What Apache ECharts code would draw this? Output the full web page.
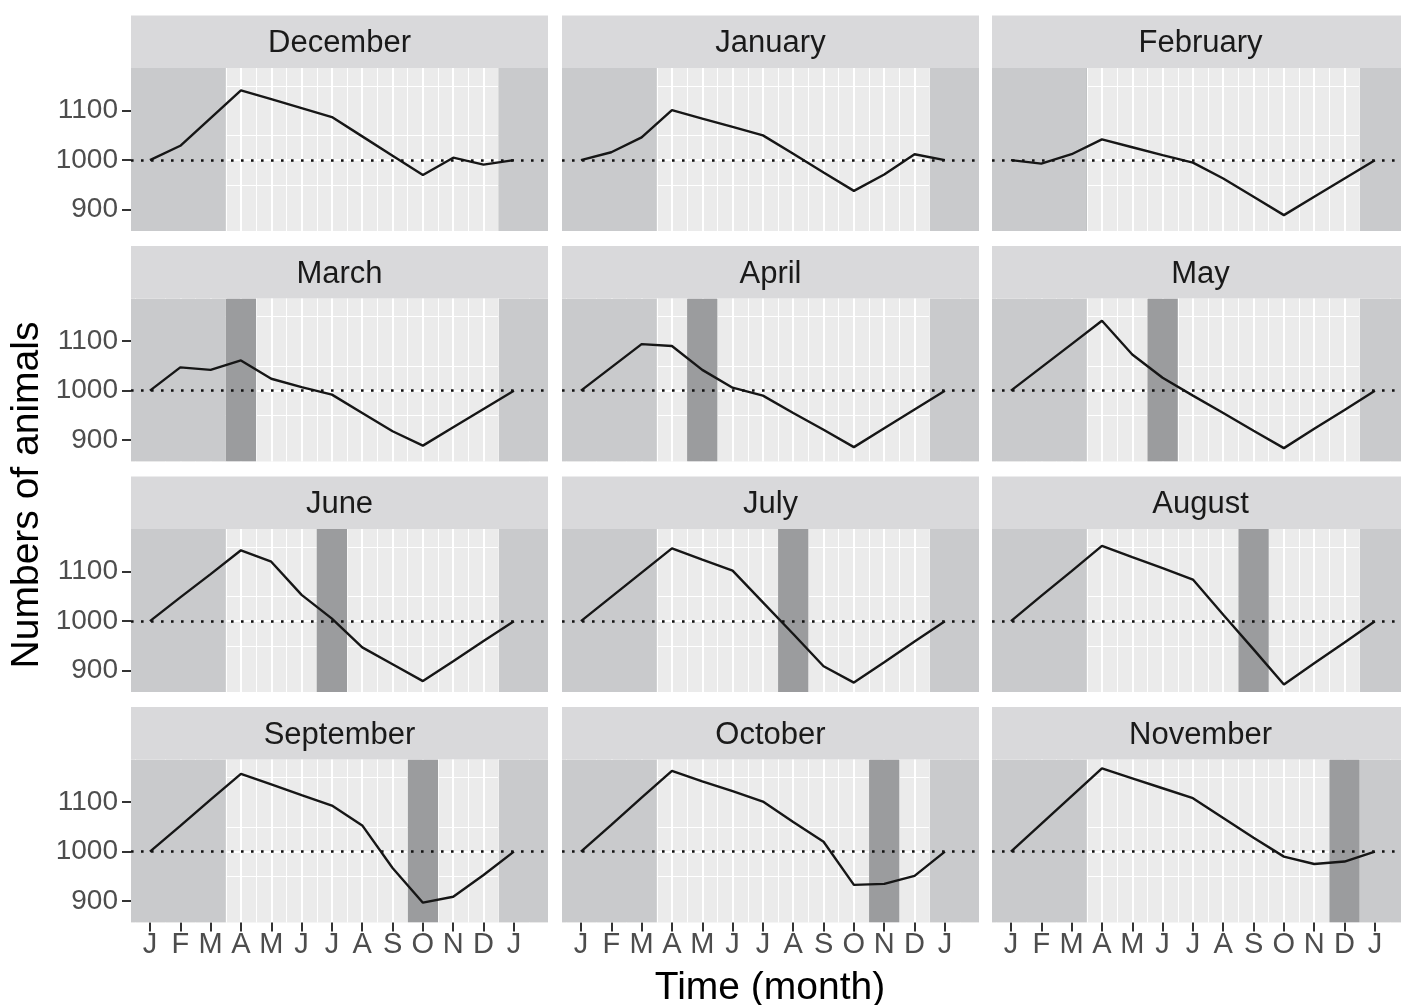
<!DOCTYPE html>
<html><head><meta charset="utf-8">
<script src="https://cdn.jsdelivr.net/npm/echarts@6/dist/echarts.min.js"></script>
<style>html,body{margin:0;padding:0;background:#fff}#c{width:1401px;height:1005px}</style>
</head><body><div id="c"></div>
<script>
// ---- data ----
const panelTitles = ['December','January','February','March','April','May','June','July','August','September','October','November'];
const monthTicks = [1,2,3,4,5,6,7,8,9,10,11,12,13];
const monthLetters = ['J','F','M','A','M','J','J','A','S','O','N','D','J'];
const yTicks = [900,1000,1100];
const baseline = 1000;
const X_MIN = 0.375, X_MAX = 14.125;
const Y_MIN = 857, Y_MAX = 1186;

const december  = [1000,1029,1085,1141,1123,1105,1087,1048,1009,970,1005,991,1000];
const january   = [1000,1016,1046,1101,1084,1067,1050,1013,975,938,971,1012,1000];
const february  = [1000,993,1012,1042,1026,1010,995,963,926,889,926,963,1000];
const march     = [1000,1047,1042,1061,1024,1007,992,955,918,889,926,963,1000];
const april     = [1000,1047,1094,1090,1042,1006,990,955,921,886,924,962,1000];
const may       = [1000,1047,1094,1141,1073,1026,990,955,919,884,923,961,1000];
const june      = [1000,1048,1095,1143,1120,1053,1005,947,913,879,919,960,1000];
const july      = [1000,1049,1098,1147,1124,1102,1038,974,909,876,917,959,1000];
const august    = [1000,1051,1101,1152,1129,1107,1084,1013,943,872,915,957,1000];
const september = [1000,1052,1105,1157,1136,1114,1093,1053,967,897,909,953,1000];
const october   = [1000,1054,1109,1163,1142,1122,1101,1060,1020,933,935,951,1000];
const november  = [1000,1056,1112,1168,1148,1128,1108,1068,1028,990,975,980,1000];
const panelValues = [december,january,february,march,april,may,june,july,august,september,october,november];

// highlighted month (dark band centre) per panel
const highlightMonth = [13,2,3,4,5,6,7,8,9,10,11,12];
// off-season shaded ranges (x)
const offSeason = [[X_MIN,3.5],[12.5,X_MAX]];

// ---- layout ----
const FONT = '"Liberation Sans", Arial, Helvetica, sans-serif';
const colLeft = [131, 562, 992];
const rowTop = [68, 298.5, 529, 759.5];
const panelW = 417, panelH = 163, stripH = 52.5;
const LIGHT = '#C9CACC', DARK = '#9B9C9E';

const grids = [], xAxes = [], yAxes = [], series = [], graphics = [];

function rectRender(params, api) {
  const cs = params.coordSys;
  const a = api.coord([api.value(0), Y_MAX]);
  const b = api.coord([api.value(1), Y_MIN]);
  const shape = echarts.graphic.clipRectByRect(
    {x: a[0], y: cs.y, width: b[0] - a[0], height: cs.height},
    {x: cs.x, y: cs.y, width: cs.width, height: cs.height});
  if (!shape) return null;
  return {type: 'rect', shape: shape, style: {fill: api.value(2) === 1 ? DARK : LIGHT}};
}

panelTitles.forEach((title, i) => {
  const r = Math.floor(i / 3), c = i % 3;
  const left = colLeft[c], top = rowTop[r];
  const isBottom = r === 3, isLeft = c === 0;
  grids.push({left: left, top: top, width: panelW, height: panelH, show: true,
    backgroundColor: '#EBEBEB', borderWidth: 0, containLabel: false, outerBoundsMode: 'none'});
  xAxes.push({
    gridIndex: i, type: 'value', min: X_MIN, max: X_MAX, splitNumber: 14,
    axisLine: {show: false},
    axisTick: {show: isBottom, length: 9, customValues: monthTicks, lineStyle: {color: '#333333', width: 2}},
    axisLabel: {show: isBottom, customValues: monthTicks, margin: 8, fontSize: 29, color: '#4D4D4D', fontFamily: FONT,
      formatter: v => monthLetters[monthTicks.indexOf(v)] || ''},
    splitLine: {show: true, showMinLine: false, showMaxLine: false, lineStyle: {color: '#FFFFFF', width: 2}},
    minorTick: {show: false, splitNumber: 2},
    minorSplitLine: {show: true, lineStyle: {color: '#FFFFFF', width: 1.1}}
  });
  yAxes.push({
    gridIndex: i, type: 'value', min: Y_MIN, max: Y_MAX, splitNumber: 3,
    axisLine: {show: false},
    axisTick: {show: isLeft, length: 9, customValues: yTicks, lineStyle: {color: '#333333', width: 2}},
    axisLabel: {show: isLeft, customValues: yTicks, margin: 13, fontSize: 28, color: '#4D4D4D', fontFamily: FONT,
      formatter: v => String(v)},
    splitLine: {show: true, showMinLine: false, showMaxLine: false, lineStyle: {color: '#FFFFFF', width: 2}},
    minorTick: {show: false, splitNumber: 2},
    minorSplitLine: {show: true, lineStyle: {color: '#FFFFFF', width: 1.1}}
  });
  const rects = [[highlightMonth[i] - 0.5, highlightMonth[i] + 0.5, 1]]
    .concat(offSeason.map(s => [s[0], s[1], 0]));
  series.push({
    type: 'custom', xAxisIndex: i, yAxisIndex: i, silent: true, clip: true, animation: false,
    renderItem: rectRender, data: rects, encode: {x: [0, 1]}, z: 1
  });
  series.push({
    type: 'line', xAxisIndex: i, yAxisIndex: i, silent: true, animation: false, clip: true,
    showSymbol: false, symbol: 'none', z: 3,
    data: panelValues[i].map((v, k) => [monthTicks[k], v]),
    lineStyle: {color: '#161616', width: 2.4},
    markLine: {silent: true, symbol: 'none', animation: false, label: {show: false},
      lineStyle: {color: '#111111', width: 2.6, type: [2.6, 7.4]},
      data: [{yAxis: baseline}]}
  });
  graphics.push({type: 'rect', silent: true, shape: {x: left, y: top - stripH, width: panelW, height: stripH},
    style: {fill: '#D9D9DB'}});
  graphics.push({type: 'text', silent: true, x: left + panelW / 2, y: top - stripH / 2 + 2,
    style: {text: title, font: '31px ' + FONT, fill: '#1A1A1A', align: 'center', verticalAlign: 'middle'}});
});

graphics.push({type: 'text', silent: true, x: 770, y: 988,
  style: {text: 'Time (month)', font: '39px ' + FONT, fill: '#000', align: 'center', verticalAlign: 'middle'}});
graphics.push({type: 'text', silent: true, x: 27, y: 495, rotation: Math.PI / 2,
  style: {text: 'Numbers of animals', font: '39px ' + FONT, fill: '#000', align: 'center', verticalAlign: 'middle'}});

const chart = echarts.init(document.getElementById('c'), null, {renderer: 'canvas'});
chart.setOption({
  animation: false,
  backgroundColor: '#FFFFFF',
  grid: grids, xAxis: xAxes, yAxis: yAxes, series: series,
  graphic: graphics
});
</script></body></html>
